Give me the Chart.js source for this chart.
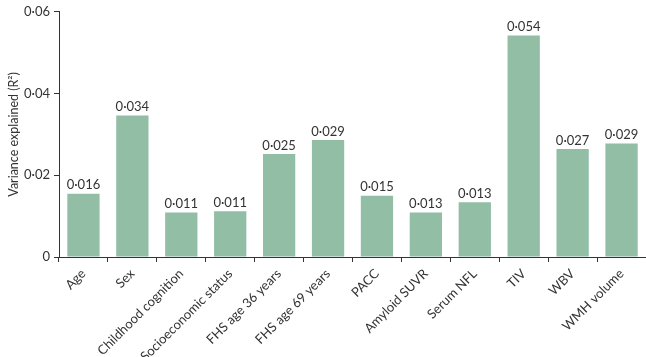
<!DOCTYPE html>
<html>
<head>
<meta charset="utf-8">
<script src="https://cdn.jsdelivr.net/npm/chart.js@4/dist/chart.umd.min.js"></script>
<style>
html,body{margin:0;padding:0;background:#fff;}
#wrap{width:646px;height:357px;position:relative;}
</style>
</head>
<body>
<div id="wrap"><canvas id="c"></canvas></div>
<script>
const categories = ["Age","Sex","Childhood cognition","Socioeconomic status","FHS age 36 years","FHS age 69 years","PACC","Amyloid SUVR","Serum NFL","TIV","WBV","WMH volume"];
const values = [0.0155,0.0346,0.0109,0.0112,0.0252,0.0286,0.0150,0.0109,0.0134,0.0542,0.0264,0.0278];
const valueLabels = ["0·016","0·034","0·011","0·011","0·025","0·029","0·015","0·013","0·013","0·054","0·027","0·029"];
const yTicks = [0,0.02,0.04,0.06];

const FONT = "Lato, sans-serif";
const TXT = '#333333';

const barLabels = {
  id:'barLabels',
  afterDatasetsDraw(chart){
    const ctx = chart.ctx;
    const meta = chart.getDatasetMeta(0);
    ctx.save();
    ctx.font = "13px " + FONT;
    ctx.fillStyle = TXT;
    ctx.textAlign = 'center';
    ctx.textBaseline = 'bottom';
    meta.data.forEach((bar,i)=>{
      ctx.fillText(valueLabels[i], bar.x, bar.y - 2);
    });
    ctx.restore();
  }
};

new Chart(document.getElementById('c'), {
  type:'bar',
  data:{
    labels:categories,
    datasets:[{
      data:values,
      backgroundColor:'#92bea6',
      borderWidth:0,
      barPercentage:0.66,
      categoryPercentage:1.0
    }]
  },
  options:{
    responsive:true,
    maintainAspectRatio:false,
    animation:false,
    layout:{padding:{top:0,right:0,bottom:0,left:0}},
    plugins:{legend:{display:false},tooltip:{enabled:false}},
    scales:{
      x:{
        grid:{display:true,drawOnChartArea:false,drawTicks:true,tickLength:5,color:'#333',offset:true,lineWidth:1},
        border:{display:true,color:'#333',width:1},
        ticks:{color:TXT,font:{family:FONT,size:13},maxRotation:45,minRotation:45,padding:4,autoSkip:false},
        afterFit(s){ s.height = 100; }
      },
      y:{
        min:0,max:0.06,
        afterBuildTicks(s){ s.ticks = yTicks.map(v=>({value:v})); },
        grid:{display:true,drawOnChartArea:false,drawTicks:true,tickLength:5,color:'#333'},
        border:{display:true,color:'#333',width:1},
        ticks:{color:TXT,font:{family:FONT,size:13},padding:4,
          callback(v){ return v===0 ? '0' : v.toFixed(2).replace('.','·'); }},
        title:{display:true,text:'Variance explained (R²)',color:TXT,font:{family:FONT,size:12.5},padding:{top:6,bottom:2}},
        afterFit(s){ s.width = 59; }
      }
    }
  },
  plugins:[barLabels]
});
</script>
</body>
</html>
